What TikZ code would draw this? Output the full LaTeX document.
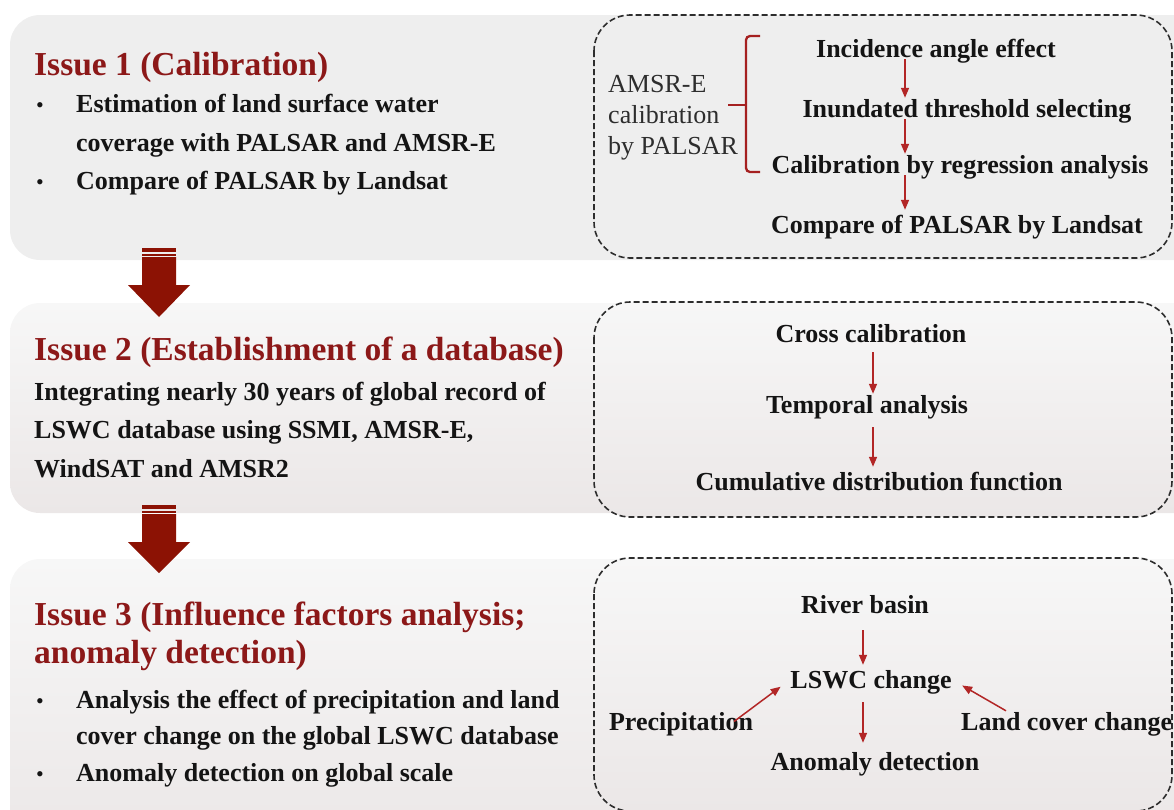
\documentclass[tikz,border=0pt]{standalone}
\usepackage{fontspec}
\setmainfont{Liberation Serif}
\usetikzlibrary{arrows.meta}

\definecolor{issuered}{RGB}{140,24,24}
\definecolor{blockred}{RGB}{140,18,4}
\definecolor{flowred}{RGB}{178,38,38}
\definecolor{bracered}{RGB}{165,32,32}
\definecolor{panelgray}{RGB}{238,238,238}
\definecolor{paneltop}{RGB}{247,247,247}
\definecolor{panelbot}{RGB}{235,231,231}
\definecolor{boxline}{RGB}{45,45,45}
\definecolor{textblack}{RGB}{20,20,20}

\begin{document}
\begin{tikzpicture}[x=1pt, y=-1pt,
        panel/.style={rounded corners=30pt},
        shadedpanel/.style={panel, top color=paneltop, bottom color=panelbot},
        dashbox/.style={draw=boxline, line width=1.6pt, dash pattern=on 6pt off 3pt, rounded corners=36pt},
        issue/.style={anchor=base west, inner sep=0pt, text=issuered, font=\fontsize{33.5}{40}\selectfont\bfseries},
        body/.style={anchor=base west, inner sep=0pt, text=textblack, font=\fontsize{26}{31}\selectfont\bfseries},
        bullet/.style={anchor=base west, inner sep=0pt, text=textblack, font=\fontsize{22}{26}\selectfont},
        amsr/.style={anchor=base west, inner sep=0pt, text=boxline, font=\fontsize{26}{31}\selectfont},
        flowtext/.style={anchor=base, inner sep=0pt, text height=19pt, text depth=2pt, text=textblack, font=\fontsize{26}{31}\selectfont\bfseries},
        flow/.style={draw=flowred, line width=1.5pt, -{Triangle[length=10pt,width=8pt]}},
        bracket/.style={draw=bracered, line width=2.3pt}
    ]
        \useasboundingbox (0,0) rectangle (1174,809);
        \clip (0,0) rectangle (1174,809);
        %\draw[step=50, color=lightgray] (0,0) grid (1174,809);
        \fill[panelgray, panel] (10,15) rectangle (1210,260);
        \shade[shadedpanel] (10,303) rectangle (1210,513);
        \shade[shadedpanel] (10,559) rectangle (1210,850);
        \draw[dashbox, fill=panelgray] (594,15) rectangle (1172,258);
        \draw[dashbox, top color=paneltop, bottom color=panelbot] (594,302) rectangle (1172,517);
        \draw[dashbox, top color=paneltop, bottom color=panelbot] (594,558) rectangle (1172,811);
        % block arrows
        \fill[blockred] (142,248) rectangle (176,251.5);
        \fill[blockred] (142,253.5) rectangle (176,255.5);
        \fill[blockred] (142,257) -- (176,257) -- (176,285) -- (190,285) -- (159,317) -- (128,285) -- (142,285) -- cycle;
        \fill[blockred] (142,505) rectangle (176,508.5);
        \fill[blockred] (142,510.5) rectangle (176,512.5);
        \fill[blockred] (142,514) -- (176,514) -- (176,542) -- (190,542) -- (159,573) -- (128,542) -- (142,542) -- cycle;
        % issue 1
        \node[issue] (issue1) at (34,75) {Issue 1 (Calibration)};
        \node[bullet] (dot11) at (36,112) {•};
        \node[body] (est1) at (76,112) {Estimation of land surface water};
        \node[body] (est2) at (76,151) {coverage with PALSAR and AMSR-E};
        \node[bullet] (dot12) at (36,189) {•};
        \node[body] (cmp1) at (76,189) {Compare of PALSAR by Landsat};
        % issue 2
        \node[issue] (issue2) at (34,360) {Issue 2 (Establishment of a database)};
        \node[body] (int1) at (34,400) {Integrating nearly 30 years of global record of};
        \node[body] (int2) at (34,438) {LSWC database using SSMI, AMSR-E,};
        \node[body] (int3) at (34,477) {WindSAT and AMSR2};
        % issue 3
        \node[issue] (issue3a) at (34,625) {Issue 3 (Influence factors analysis;};
        \node[issue] (issue3b) at (34,663) {anomaly detection)};
        \node[bullet] (dot31) at (36,708) {•};
        \node[body] (ana1) at (76,708) {Analysis the effect of precipitation and land};
        \node[body] (ana2) at (76,744) {cover change on the global LSWC database};
        \node[bullet] (dot32) at (36,781) {•};
        \node[body] (ano1) at (76,781) {Anomaly detection on global scale};
        % calibration steps
        \node[amsr] (amsr1) at (608,92) {AMSR-E};
        \node[amsr] (amsr2) at (608,123) {calibration};
        \node[amsr] (amsr3) at (608,154) {by PALSAR};
        \draw[bracket, rounded corners=4pt] (760,36) -- (746,36) -- (746,172) -- (760,172);
        \draw[bracket] (728,105) -- (746,105);
        \coordinate (ax1) at (905,0);
        \node[flowtext] (incid) at (936,57) {Incidence angle effect};
        \node[flowtext] (thresh) at (967,117) {Inundated threshold selecting};
        \node[flowtext] (regr) at (960,173) {Calibration by regression analysis};
        \node[flowtext] (lsat) at (957,233) {Compare of PALSAR by Landsat};
        \draw[flow] (incid.south -| ax1) -- (thresh.north -| ax1);
        \draw[flow] (thresh.south -| ax1) -- (regr.north -| ax1);
        \draw[flow] (regr.south -| ax1) -- ([yshift=4pt]lsat.north -| ax1);
        % database steps
        \coordinate (ax2) at (873,0);
        \node[flowtext] (cross) at (871,342) {Cross calibration};
        \node[flowtext] (tempo) at (867,413) {Temporal analysis};
        \node[flowtext] (cdf) at (879,490) {Cumulative distribution function};
        \draw[flow, shorten <=8pt] (cross.south -| ax2) -- (tempo.north -| ax2);
        \draw[flow, shorten <=12pt, shorten >=4pt] (tempo.south -| ax2) -- (cdf.north -| ax2);
        % influence factors
        \coordinate (ax3) at (863,0);
        \node[flowtext] (river) at (865,613) {River basin};
        \node[flowtext] (lswc) at (871,688) {LSWC change};
        \node[flowtext] (precip) at (681,730) {Precipitation};
        \node[flowtext, anchor=base west] (landc) at (961,730) {Land cover change};
        \node[flowtext] (anom) at (875,770) {Anomaly detection};
        \draw[flow, shorten <=15pt, shorten >=4pt] (river.south -| ax3) -- (lswc.north -| ax3);
        \draw[flow, shorten <=12pt, shorten >=8pt] (lswc.south -| ax3) -- (anom.north -| ax3);
        \draw[flow, shorten >=12pt] ([xshift=53pt]precip.center) -- (lswc.west);
        \draw[flow, shorten >=12pt] ([xshift=45pt]landc.north west) -- (lswc.east);
\end{tikzpicture}
\end{document}
